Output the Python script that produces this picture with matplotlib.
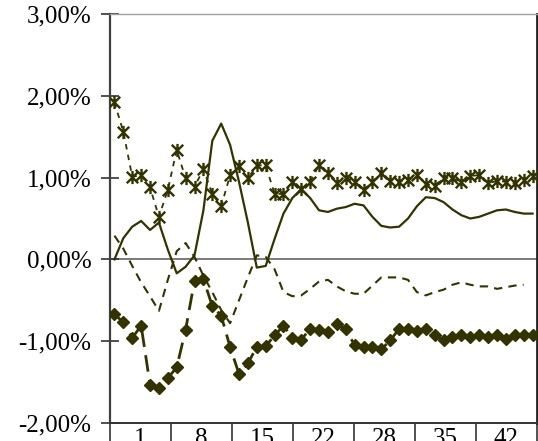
import numpy as np
import matplotlib
matplotlib.use("Agg")
import matplotlib.pyplot as plt
from matplotlib.path import Path

# values in percent, one per period
smooth_line = [0.00, 0.26, 0.40, 0.47, 0.36, 0.45, 0.12, -0.17, -0.09, 0.05,
               0.60, 1.45, 1.66, 1.40, 0.95, 0.45, -0.10, -0.08, 0.25, 0.56,
               0.75, 0.86, 0.75, 0.60, 0.58, 0.62, 0.64, 0.68, 0.66, 0.52,
               0.41, 0.39, 0.40, 0.50, 0.65, 0.76, 0.75, 0.70, 0.61, 0.54,
               0.50, 0.52, 0.56, 0.60, 0.61, 0.58, 0.56, 0.56]
dashed_line = [0.29, 0.13, -0.08, -0.28, -0.45, -0.63, -0.25, 0.10, 0.20, 0.03,
               -0.20, -0.40, -0.62, -0.78, -0.50, -0.22, 0.05, 0.03, -0.12, -0.40,
               -0.45, -0.44, -0.36, -0.27, -0.25, -0.33, -0.39, -0.42, -0.42, -0.32,
               -0.22, -0.22, -0.22, -0.25, -0.40, -0.44, -0.40, -0.37, -0.31, -0.28,
               -0.31, -0.33, -0.33, -0.36, -0.34, -0.32, -0.31, np.nan]
diamonds = [-0.67, -0.77, -0.96, -0.81, -1.53, -1.57, -1.45, -1.32, -0.86, -0.26,
            -0.24, -0.57, -0.69, -1.07, -1.40, -1.27, -1.07, -1.06, -0.93, -0.81,
            -0.96, -0.98, -0.85, -0.86, -0.89, -0.79, -0.85, -1.05, -1.07, -1.07,
            -1.10, -0.99, -0.85, -0.85, -0.87, -0.85, -0.93, -0.99, -0.95, -0.92,
            -0.95, -0.92, -0.95, -0.92, -0.97, -0.93, -0.92, -0.93]
stars = [1.92, 1.56, 1.01, 1.03, 0.88, 0.52, 0.85, 1.34, 0.99, 0.89,
         1.10, 0.80, 0.65, 1.03, 1.14, 0.99, 1.15, 1.15, 0.80, 0.80,
         0.95, 0.86, 0.95, 1.15, 1.06, 0.94, 1.00, 0.95, 0.85, 0.95,
         1.06, 0.96, 0.95, 0.97, 1.03, 0.92, 0.90, 1.00, 0.99, 0.95,
         1.02, 1.03, 0.93, 0.96, 0.95, 0.93, 0.97, 1.02]

x_labels = ['1', '8', '15', '22', '28', '35', '42']
y_ticks = [-2, -1, 0, 1, 2, 3]
y_labels = ['-2,00%', '-1,00%', '0,00%', '1,00%', '2,00%', '3,00%']

col = '#333300'
x = np.arange(1, len(diamonds) + 1)

# excel style star: an X with a vertical bar
star = Path([(-1, -1), (1, 1), (-1, 1), (1, -1), (0, -1.15), (0, 1.15)],
            [Path.MOVETO, Path.LINETO, Path.MOVETO, Path.LINETO, Path.MOVETO, Path.LINETO])

plt.rcParams['font.family'] = ['Liberation Serif', 'DejaVu Serif']

fig = plt.figure(figsize=(5.38, 4.41), dpi=100)
ax = fig.add_axes([110 / 538, 1 - 423 / 441, 427 / 538, 409 / 441])

ax.axhline(0, color='#707070', lw=1.3, zorder=1)

ax.plot(x, smooth_line, color=col, lw=1.6, solid_joinstyle='round', zorder=3)
ax.plot(x, dashed_line, color=col, lw=1.5, dashes=(4, 3), zorder=3)
ax.plot(x, diamonds, color=col, lw=2.0, dashes=(6, 3), marker='D', ms=6.2,
        mfc=col, mec=col, zorder=4)
ax.plot(x, stars, color=col, lw=1.3, dashes=(3, 3), marker=star, ms=9.5,
        mfc='none', mec=col, mew=1.7, zorder=4)

ax.set_xlim(0.5, len(x) + 0.5)
ax.set_ylim(-2, 3)

n_groups = len(x_labels)
width = len(x) / n_groups
bounds = [0.5 + k * width for k in range(n_groups + 1)]
centers = [0.5 + (k + 0.5) * width for k in range(n_groups)]
ax.set_xticks(centers)
ax.set_xticklabels(x_labels)
ax.set_xticks(bounds, minor=True)
ax.tick_params(axis='x', which='major', length=0, pad=3.5, labelsize=18)
ax.tick_params(axis='x', which='minor', length=20, width=1.2, color='#333333', direction='out')

ax.set_yticks(y_ticks)
ax.set_yticklabels(y_labels)
ax.tick_params(axis='y', direction='inout', length=13, width=1.2, color='#333333',
               pad=7, labelsize=18)

ax.spines['left'].set_color('#404040')
ax.spines['left'].set_linewidth(1.6)
ax.spines['bottom'].set_color('#333333')
ax.spines['bottom'].set_linewidth(1.4)
ax.spines['right'].set_color('#222222')
ax.spines['right'].set_linewidth(2.0)
ax.spines['top'].set_color('#a0a0a0')
ax.spines['top'].set_linewidth(1.0)

fig.savefig('out.png', dpi=100)
